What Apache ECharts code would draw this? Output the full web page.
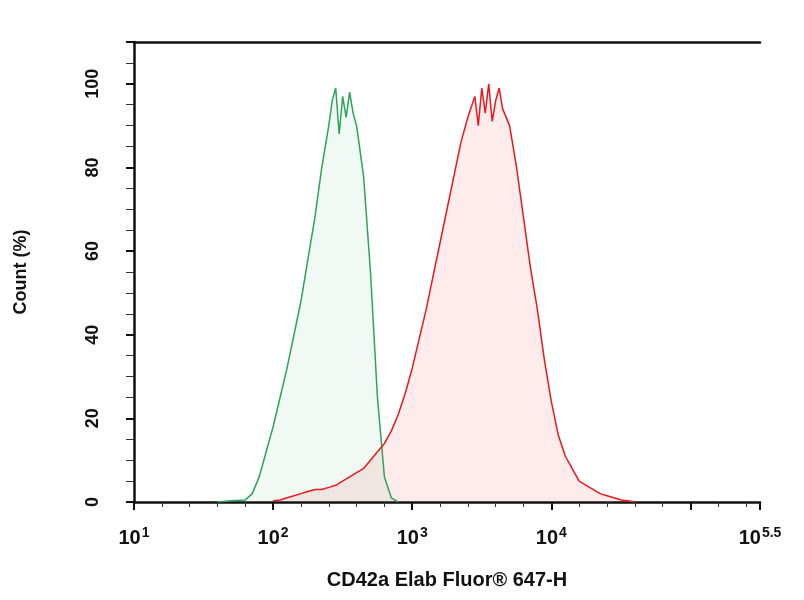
<!DOCTYPE html>
<html>
<head>
<meta charset="utf-8">
<script src="https://cdn.jsdelivr.net/npm/echarts@6/dist/echarts.min.js"></script>
<style>html,body{margin:0;padding:0;background:#fff}#chart{width:804px;height:600px}</style>
</head>
<body>
<div id="chart"></div>
<script>
  // x values are log10 of fluorescence
  var greenX = [1.6, 1.7, 1.8, 1.85, 1.9, 1.95, 2.0, 2.05, 2.1, 2.15, 2.2, 2.25, 2.3, 2.35, 2.4, 2.425, 2.45, 2.475, 2.5, 2.525, 2.55, 2.575, 2.6, 2.65, 2.7, 2.75, 2.8, 2.85, 2.9];
  var greenY = [0, 0.3, 0.5, 2, 6, 12, 18, 25, 32, 40, 48, 58, 68, 80, 90, 96, 99, 88, 97, 92, 98, 93, 90, 78, 55, 25, 6, 1, 0];
  var redX = [2.0, 2.05, 2.1, 2.15, 2.2, 2.25, 2.3, 2.35, 2.4, 2.45, 2.5, 2.55, 2.6, 2.65, 2.7, 2.75, 2.8, 2.85, 2.9, 2.95, 3.0, 3.05, 3.1, 3.15, 3.2, 3.25, 3.3, 3.35, 3.4, 3.45, 3.475, 3.5, 3.525, 3.55, 3.575, 3.6, 3.625, 3.65, 3.7, 3.75, 3.8, 3.85, 3.9, 3.95, 4.0, 4.05, 4.1, 4.15, 4.2, 4.25, 4.3, 4.35, 4.4, 4.45, 4.5, 4.55, 4.6];
  var redY = [0.3, 0.5, 1, 1.5, 2, 2.5, 3, 3, 3.5, 4, 5, 6, 7, 8, 10, 12, 14, 17, 21, 26, 32, 39, 46, 54, 62, 70, 78, 86, 92, 97, 90, 99, 93, 100, 91, 96, 99, 94, 90, 80, 68, 56, 46, 34, 24, 16, 11, 8, 5, 4, 3, 2, 1.5, 1, 0.5, 0.3, 0];
  var yTicks = [0, 20, 40, 60, 80, 100];

  var chart = echarts.init(document.getElementById('chart'));

  function pairs(xs, ys) {
    return xs.map(function (x, i) { return [x, ys[i]]; });
  }

  var font = 'Liberation Sans';
  var option = {
    animation: false,
    grid: { left: 134, right: 44, top: 42, bottom: 98 },
    xAxis: [{
      type: 'value', min: 1, max: 5.5, interval: 1,
      name: 'CD42a Elab Fluor® 647-H', nameLocation: 'middle', nameGap: 68,
      nameTextStyle: { fontFamily: font, fontWeight: 'bold', fontSize: 20, color: '#111' },
      axisLine: { lineStyle: { color: '#111', width: 2.5 } },
      axisTick: { length: 8, lineStyle: { color: '#111', width: 2 } },
      minorTick: { show: true, splitNumber: 5, length: 5, lineStyle: { color: '#333' } },
      splitLine: { show: false },
      axisLabel: {
        margin: 24, showMaxLabel: true,
        formatter: function (v) { return v === 5 ? '' : '{b|10}{s|' + v + '}'; },
        rich: {
          b: { fontFamily: font, fontWeight: 'bold', fontSize: 20, color: '#111' },
          s: { fontFamily: font, fontWeight: 'bold', fontSize: 14, color: '#111', verticalAlign: 'top', padding: [0, 0, 10, 1] }
        }
      }
    }, {
      type: 'value', position: 'top', min: 1, max: 5.5,
      axisLine: { onZero: false, lineStyle: { color: '#111', width: 2.5 } },
      axisTick: { show: false }, axisLabel: { show: false }, splitLine: { show: false }
    }],
    yAxis: {
      type: 'value', min: 0, max: 110, interval: 20,
      name: 'Count (%)', nameLocation: 'middle', nameGap: 104, nameRotate: 90,
      nameTextStyle: { fontFamily: font, fontWeight: 'bold', fontSize: 18, color: '#111' },
      axisLine: { show: true, lineStyle: { color: '#111', width: 2.5 } },
      axisTick: { length: 8, lineStyle: { color: '#111', width: 2 } },
      minorTick: { show: true, splitNumber: 4, length: 8, lineStyle: { color: '#333' } },
      splitLine: { show: false },
      axisLabel: {
        rotate: 90, margin: 32, fontFamily: font, fontWeight: 'bold', fontSize: 18, color: '#111',
        formatter: function (v) { return yTicks.indexOf(v) >= 0 ? String(v) : ''; }
      }
    },
    series: [{
      type: 'line', data: pairs(greenX, greenY), symbol: 'none',
      lineStyle: { color: '#2aa55a', width: 1.5 },
      areaStyle: { color: 'rgba(40,170,90,0.10)' }
    }, {
      type: 'line', data: pairs(redX, redY), symbol: 'none',
      lineStyle: { color: '#e8191e', width: 1.5 },
      areaStyle: { color: 'rgba(240,60,60,0.14)' }
    }]
  };

  chart.setOption(option);
  window.addEventListener('resize', chart.resize);
</script>
</body>
</html>
